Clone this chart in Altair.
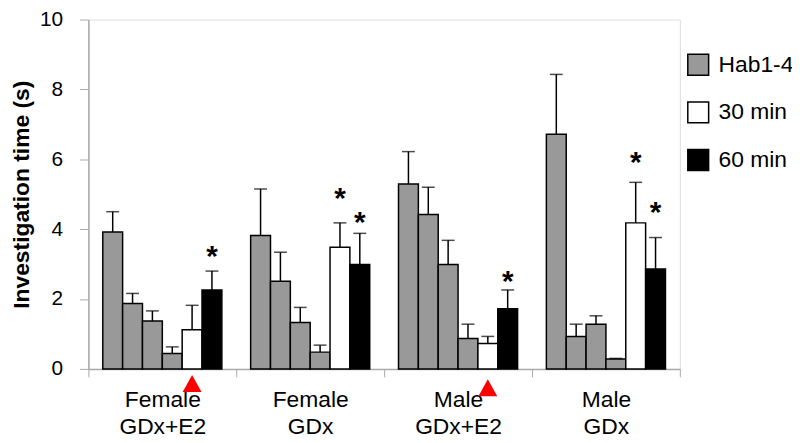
import altair as alt
import pandas as pd

groups = ["Female|GDx+E2", "Female|GDx", "Male|GDx+E2", "Male|GDx"]
bar_ids = ["h1", "h2", "h3", "h4", "m30", "m60"]
bar_types = ["Hab1-4", "Hab1-4", "Hab1-4", "Hab1-4", "30 min", "60 min"]

means = [
    [3.92, 1.87, 1.37, 0.44, 1.12, 2.26],
    [3.82, 2.51, 1.33, 0.48, 3.48, 2.99],
    [5.29, 4.42, 2.99, 0.87, 0.73, 1.72],
    [6.72, 0.93, 1.28, 0.28, 4.18, 2.86],
]
err_tops = [
    [4.50, 2.16, 1.66, 0.63, 1.82, 2.80],
    [5.15, 3.34, 1.76, 0.68, 4.18, 3.88],
    [6.22, 5.20, 3.68, 1.28, 0.93, 2.26],
    [8.43, 1.28, 1.52, 0.30, 5.34, 3.76],
]

# significance stars: (group, bar, y of star)
star_groups = ["Female|GDx+E2", "Female|GDx", "Female|GDx", "Male|GDx+E2", "Male|GDx", "Male|GDx"]
star_bars = ["m60", "m30", "m60", "m60", "m30", "m60"]
star_y = [3.43, 5.10, 4.40, 2.70, 6.13, 4.68]

# red arrows under 30 min bars
arrow_groups = ["Female|GDx+E2", "Male|GDx+E2"]
arrow_bars = ["m30", "m30"]
arrow_y = [-0.42, -0.54]

type_domain = ["Hab1-4", "30 min", "60 min"]
type_colors = ["#999999", "#ffffff", "#000000"]

rows = []
for gi, g in enumerate(groups):
    for bi, b in enumerate(bar_ids):
        rows.append({"group": g, "bar": b, "type": bar_types[bi],
                     "mean": means[gi][bi], "err": err_tops[gi][bi]})
df = pd.DataFrame(rows)
stars = pd.DataFrame({"group": star_groups, "bar": star_bars, "y": star_y})
arrows = pd.DataFrame({"group": arrow_groups, "bar": arrow_bars, "y": arrow_y})

FONT = "Liberation Sans"

x_enc = alt.X("group:N", sort=groups, title=None,
              scale=alt.Scale(paddingInner=0, paddingOuter=0),
              axis=alt.Axis(labelExpr="split(datum.label, '|')", labelFontSize=23,
                            labelFont=FONT, labelColor="black", labelAngle=0,
                            labelPadding=12, labelLineHeight=27,
                            tickBand="extent", tickSize=8, tickColor="#aaaaaa",
                            domainColor="#aaaaaa", domainWidth=1.5, tickWidth=1))
xo_enc = alt.XOffset("bar:N", sort=bar_ids,
                     scale=alt.Scale(paddingInner=0, paddingOuter=0.725))
y_scale = alt.Scale(domain=[0, 10], nice=False)

bars = alt.Chart(df).mark_bar(stroke="black", strokeWidth=1.5).encode(
    x=x_enc, xOffset=xo_enc,
    y=alt.Y("mean:Q", scale=y_scale, title="Investigation time (s)",
            axis=alt.Axis(values=list(range(0, 11)),
                          labelExpr="datum.value % 2 == 0 ? datum.label : ''",
                          labelFontSize=21, labelFont=FONT, labelColor="black",
                          labelPadding=17, tickSize=9, tickColor="#aaaaaa",
                          domainColor="#aaaaaa", domainWidth=1.5, grid=False,
                          titleFont=FONT, titleFontSize=23, titleFontWeight="bold",
                          titleColor="black", titlePadding=6)),
    fill=alt.Fill("type:N", scale=alt.Scale(domain=type_domain, range=type_colors),
                  legend=alt.Legend(title=None, orient="none", legendX=603, legendY=34,
                                    symbolType="square", symbolSize=441,
                                    symbolStrokeColor="black", symbolStrokeWidth=1.5,
                                    labelFontSize=23, labelFont=FONT, labelColor="black",
                                    labelOffset=9, rowPadding=21, padding=0)),
)

rules = alt.Chart(df).mark_rule(color="black", strokeWidth=1.5).encode(
    x=alt.X("group:N", sort=groups), xOffset=xo_enc,
    y=alt.Y("mean:Q", scale=y_scale), y2="err:Q")

caps = alt.Chart(df).mark_tick(color="black", thickness=1.5, size=13).encode(
    x=alt.X("group:N", sort=groups), xOffset=xo_enc,
    y=alt.Y("err:Q", scale=y_scale))

star_marks = alt.Chart(stars).mark_text(text="*", fontSize=30, font=FONT,
                                        fontWeight="bold", color="black",
                                        baseline="middle", dy=8).encode(
    x=alt.X("group:N", sort=groups), xOffset=xo_enc,
    y=alt.Y("y:Q", scale=y_scale))

arrow_marks = alt.Chart(arrows).mark_point(
    shape="M-1,0.9L0,-0.9L1,0.9Z", size=361, filled=True, fill="#ff0000",
    opacity=1, strokeWidth=0).encode(
    x=alt.X("group:N", sort=groups), xOffset=xo_enc,
    y=alt.Y("y:Q", scale=y_scale))

chart = alt.layer(bars, rules, caps, star_marks, arrow_marks).properties(
    width=596, height=352,
    autosize=alt.AutoSizeParams(type="none"),
    padding={"left": 81, "top": 10, "right": 113, "bottom": 70},
).configure_view(stroke=None).configure(background="white")

chart.save("out.html", embed_options={"renderer": "svg", "actions": False})
